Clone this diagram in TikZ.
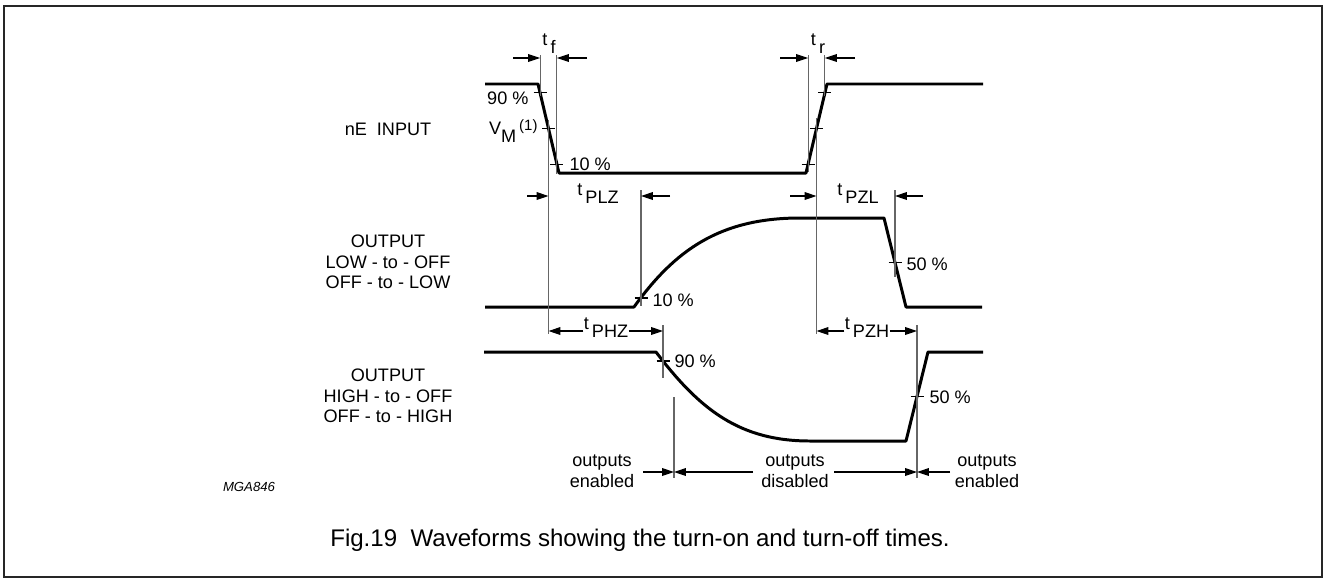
\documentclass[tikz,border=0pt]{standalone}
\usepackage{fontspec}
\setmainfont{Liberation Sans}
\usetikzlibrary{%
  arrows.meta,%
  calc,%
  positioning% wg. " of "
}
\newcommand{\tlab}[2]{#1\,\raisebox{-0.85ex}{#2}}

\begin{document}
\begin{tikzpicture}
[x=0.02cm, y=-0.02cm, font=\fontsize{10.3}{11.8}\selectfont, line width=0.6pt, >={Triangle[length=6.8pt,width=4.4pt]},
wave/.style={line width=1.7pt, line join=round},
refline/.style={draw=black!60, line width=0.6pt},
tickmark/.style={line width=0.6pt},
pct/.style={anchor=west, inner sep=0pt},
sig/.style={align=center, inner sep=0pt}]

\useasboundingbox (0,0) rectangle (1326,579);
\draw[line width=1.1pt, black!85] (4,6) rectangle (1322,577);

% nE input
\coordinate (inA) at (485,84);
\coordinate (inB) at (538,84);
\coordinate (inC) at (559,173);
\coordinate (inD) at (806,173);
\coordinate (inE) at (827,84);
\coordinate (inF) at (983,84);
\draw[wave] (inA) -- (inB) -- (inC) -- (inD) -- (inE) -- (inF);

\coordinate (in90) at ($(inB)!0.1!(inC)$);
\coordinate (inVM) at ($(inB)!0.5!(inC)$);
\coordinate (in10) at ($(inB)!0.9!(inC)$);
\coordinate (ir10) at ($(inD)!0.1!(inE)$);
\coordinate (irVM) at ($(inD)!0.5!(inE)$);
\coordinate (ir90) at ($(inD)!0.9!(inE)$);
\foreach \p in {in90,inVM,in10,ir10,irVM,ir90} {
  \draw[tickmark] ($(\p)+(-6.5,0)$) -- ($(\p)+(6.5,0)$);
}

% output LOW-to-OFF
\coordinate (mA) at (485,307);
\coordinate (mB) at (634,307);
\coordinate (mC) at (800,218);
\coordinate (mD) at (884,218);
\coordinate (mE) at (906,307);
\coordinate (mF) at (982,307);
\draw[wave] (mA) -- (mB) .. controls (675,250) and (720,218) .. (mC) -- (mD) -- (mE) -- (mF);
\coordinate (m10) at (641,298);
\coordinate (m50) at ($(mD)!0.5!(mE)$);

% output HIGH-to-OFF
\coordinate (bA) at (484,352);
\coordinate (bB) at (656,352);
\coordinate (bC) at (810,441);
\coordinate (bD) at (906,441);
\coordinate (bE) at (928,352);
\coordinate (bF) at (983,352);
\draw[wave] (bA) -- (bB) .. controls (700,410) and (740,441) .. (bC) -- (bD) -- (bE) -- (bF);
\coordinate (b90) at (663,361);
\coordinate (b50) at ($(bD)!0.5!(bE)$);
\foreach \p in {m10,m50,b90,b50} {
  \draw[tickmark] ($(\p)+(-6.5,0)$) -- ($(\p)+(6.5,0)$);
}

% reference lines
\draw[refline] (in90 |- 0,55) -- (in90 |- 0,96);
\draw[refline] (in10 |- 0,55) -- (in10 |- 0,174);
\draw[refline] (inVM |- 0,120) -- (inVM |- 0,334);
\draw[refline] (ir10 |- 0,55) -- (ir10 |- 0,172);
\draw[refline] (ir90 |- 0,55) -- (ir90 |- 0,96);
\draw[refline] (irVM |- 0,118) -- (irVM |- 0,334);
\draw[refline] (m10 |- 0,190) -- (m10 |- 0,306);
\draw[refline] (m50 |- 0,190) -- (m50 |- 0,277);
\draw[refline] (b90 |- 0,325) -- (b90 |- 0,378);
\draw[refline] (b50 |- 0,325) -- (b50 |- 0,478);
\draw[refline] (674,397) -- (674,478);

% times
\node[inner sep=0pt] (tf) at (549,44) {\tlab{t}{f}};
\draw[->] (513,58) -- (in90 |- 0,58);
\draw[->] (587,58) -- (in10 |- 0,58);
\node[inner sep=0pt] (tr) at (818,44) {\tlab{t}{r}};
\draw[->] (780,58) -- (ir10 |- 0,58);
\draw[->] (855,58) -- (ir90 |- 0,58);

\node[inner sep=0pt] (tplz) at (598,194) {\tlab{t}{PLZ}};
\draw[->] (527,196) -- (inVM |- 0,196);
\draw[->] (670,196) -- (m10 |- 0,196);
\node[inner sep=0pt] (tpzl) at (858,194) {\tlab{t}{PZL}};
\draw[->] (790,196) -- (irVM |- 0,196);
\draw[->] (923,196) -- (m50 |- 0,196);

\node[inner sep=0pt] (tphz) at (606,328) {\tlab{t}{PHZ}};
\draw[->] (tphz.west |- 0,331) -- (inVM |- 0,331);
\draw[->] (tphz.east |- 0,331) -- (b90 |- 0,331);
\node[inner sep=0pt] (tpzh) at (867,328) {\tlab{t}{PZH}};
\draw[->] (tpzh.west |- 0,331) -- (irVM |- 0,331);
\draw[->] (tpzh.east |- 0,331) -- (b50 |- 0,331);

% levels
\node[pct, anchor=east] (p90) at (529,98) {90 \%};
\node[pct, anchor=east] (vm) at (538,131) {V\raisebox{-0.85ex}{M}\,\raisebox{0.35ex}{\fontsize{8.5}{9}\selectfont(1)}};
\node[pct] (p10) at (569,164) {10 \%};
\node[pct] (m10l) at (652,300) {10 \%};
\node[pct] (m50l) at (906,264) {50 \%};
\node[pct] (b90l) at (674,361) {90 \%};
\node[pct] (b50l) at (929,397) {50 \%};

% signal names
\node[sig] (nein) at (388,129) {nE\ \ INPUT};
\node[sig] (outlow) at (388,262) {OUTPUT\\LOW - to - OFF\\OFF - to - LOW};
\node[sig] (outhigh) at (388,396) {OUTPUT\\HIGH - to - OFF\\OFF - to - HIGH};

% output states
\node[sig] (en1) at (602,471) {outputs\\enabled};
\node[sig] (dis) at (795,471) {outputs\\disabled};
\node[sig] (en2) at (987,471) {outputs\\enabled};
\draw[->] (643,472) -- (674,472);
\draw[->] (753,472) -- (674,472);
\draw[->] (834,472) -- (917,472);
\draw[->] (950,472) -- (917,472);

\node[font=\fontsize{7.5}{9}\selectfont\itshape] (code) at (249,487) {MGA846};
\node[font=\fontsize{13.7}{16}\selectfont] (caption) at (640,540) {Fig.19\ \ Waveforms showing the turn-on and turn-off times.};
\end{tikzpicture}
\end{document}
